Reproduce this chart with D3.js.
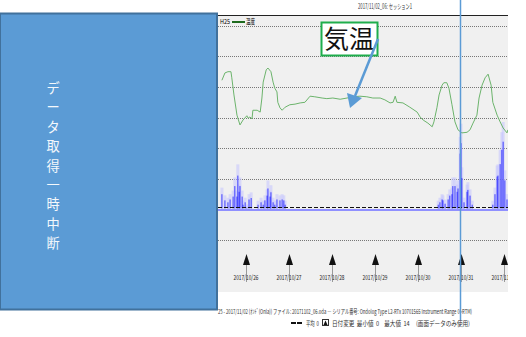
<!DOCTYPE html>
<html>
<head>
<meta charset="utf-8">
<script src="https://cdn.jsdelivr.net/npm/d3@7"></script>
<style>
  body { margin: 0; background: #fff; }
  svg text { font-family: "Noto Sans CJK JP", "DejaVu Sans", sans-serif; }
</style>
</head>
<body>
<div class="svg-container"></div>
<script>
// time in days from 2017/10/26 00:00
let tickDays = [0, 1, 2, 3, 4, 5, 6];
let tickLabels = ["2017/10/26", "2017/10/27", "2017/10/28", "2017/10/29", "2017/10/30", "2017/10/31", "2017/11/01"];

let tempDays = [-0.56, -0.49, -0.42, -0.35, -0.33, -0.28, -0.21, -0.14, -0.07, 0.02, 0.05, 0.09, 0.14, 0.16, 0.26, 0.33, 0.37, 0.40, 0.47, 0.51, 0.58, 0.63, 0.67, 0.72, 0.74, 0.79, 0.84, 0.91, 1.02, 1.14, 1.26, 1.37, 1.49, 1.60, 1.77, 1.88, 2.02, 2.19, 2.35, 2.49, 2.65, 2.81, 2.95, 3.12, 3.23, 3.35, 3.42, 3.47, 3.51, 3.65, 3.81, 3.98, 4.05, 4.12, 4.23, 4.33, 4.37, 4.44, 4.49, 4.56, 4.60, 4.67, 4.72, 4.79, 4.86, 4.93, 5.02, 5.14, 5.21, 5.28, 5.37, 5.42, 5.49, 5.56, 5.63, 5.70, 5.74, 5.84, 5.91, 5.98, 6.07, 6.09];
let tempValues = [26.1, 27.3, 27.5, 27.5, 26.5, 23.7, 20.4, 18.8, 19.6, 20.3, 19.9, 20.1, 19.8, 21.2, 21.2, 20.9, 23.2, 25.8, 27.8, 28.1, 27.5, 25.8, 24.8, 24.2, 22.5, 21.6, 21.2, 21.7, 22.1, 22.2, 22.4, 22.5, 23.5, 23.4, 23.2, 23.1, 23.2, 23.0, 23.2, 23.4, 23.5, 23.4, 23.2, 23.2, 22.9, 22.4, 22.5, 23.5, 22.5, 22.4, 21.7, 20.9, 20.1, 19.6, 19.1, 18.5, 19.3, 21.6, 23.7, 25.3, 25.7, 25.7, 24.8, 22.1, 19.3, 18.0, 17.5, 17.6, 18.0, 19.1, 20.4, 23.2, 25.3, 26.5, 27.1, 25.3, 22.5, 20.4, 19.3, 18.3, 17.5, 18.0];

let barDays = [-0.56, -0.49, -0.42, -0.37, -0.30, -0.26, -0.21, -0.19, -0.16, -0.14, -0.09, -0.07, -0.02, 0.02, 0.07, 0.12,
  0.28, 0.35, 0.40, 0.44, 0.49, 0.51, 0.56, 0.58, 0.63, 0.67, 0.72, 0.79, 0.84, 0.88, 0.91,
  4.47, 4.51, 4.56, 4.58, 4.63, 4.70, 4.74, 4.79, 4.81, 4.86, 4.91, 4.93, 4.98, 5.00, 5.02, 5.07, 5.14, 5.16, 5.21, 5.26,
  5.74, 5.79, 5.84, 5.86, 5.91, 5.95, 5.98, 6.02, 6.07];
let barValues = [3.0, 1.7, 1.3, 1.9, 2.5, 4.7, 2.5, 6.9, 3.5, 4.7, 2.5, 0.8, 1.3, 0.2, 1.9, 2.2,
  0.8, 1.3, 0.8, 1.7, 2.7, 4.2, 2.5, 3.4, 1.3, 0.8, 1.9, 1.7, 1.9, 1.7, 0.8,
  0.8, 1.3, 1.9, 1.7, 1.0, 1.9, 2.7, 3.0, 4.7, 4.7, 3.5, 4.2, 11.5, 13.7, 6.4, 1.3, 3.5, 3.9, 2.7, 0.8,
  0.8, 3.0, 6.7, 6.9, 9.3, 12.3, 14.0, 5.9, 1.9];

let gridTemps = [0, 5, 10, 15, 20, 25, 30, 35];
let legendLabels = ["H25", "温度"];
let titleText = "2017/11/02_06: セッション1";
let calloutText = "気温";
let noteChars = ["デ", "ー", "タ", "取", "得", "一", "時", "中", "断"];
let footer1 = "25 - 2017/11/02 (ｵﾝﾄﾞ(Onla)) ファイル: 20171102_06.oda ― シリアル番号: Ondolog Type L2-RTx 10701565 Instrument Range 0~RTM)";
let footer2a = "平均\u00a0\u00a00";
let footer2b = "日付変更\u00a0\u00a0最小値\u00a0\u00a00\u00a0\u00a0\u00a0\u00a0最大値\u00a0\u00a014\u00a0\u00a0\u00a0\u00a0\u00a0(画面データのみ使用)";
let avgValue = 0;

let width = 526, height = 337;
let panelLeft = 218, panelRight = 508, panelTop = 15, panelBottom = 292;

let svg = d3.select(".svg-container").append("svg")
  .attr("width", width)
  .attr("height", height);

svg.append("defs").append("clipPath").attr("id", "panel-clip")
  .append("rect")
  .attr("x", panelLeft).attr("y", panelTop)
  .attr("width", panelRight - panelLeft).attr("height", panelBottom - panelTop);

// scales
const x = d3.scaleLinear().domain([0, 6]).range([246, 504]);
const yTemp = d3.scaleLinear().domain([0, 35]).range([240, 25.8]);
const yBar = d3.scaleLinear().domain([0, 14]).range([208.5, 125]);

// panel background
svg.append("rect")
  .attr("x", panelLeft).attr("y", panelTop)
  .attr("width", panelRight - panelLeft).attr("height", panelBottom - panelTop)
  .attr("fill", "#f0f0f0");

// title
svg.append("text")
  .attr("x", 385).attr("y", 9)
  .attr("text-anchor", "middle")
  .attr("font-size", 7)
  .attr("textLength", 54).attr("lengthAdjust", "spacingAndGlyphs")
  .attr("fill", "#333")
  .text(titleText);

let plot = svg.append("g").attr("clip-path", "url(#panel-clip)");

// grid lines
plot.selectAll(".grid")
  .data(gridTemps)
  .enter()
  .append("line")
  .attr("class", "grid")
  .attr("x1", panelLeft).attr("x2", panelRight)
  .attr("y1", d => Math.round(yTemp(d)) + 0.5)
  .attr("y2", d => Math.round(yTemp(d)) + 0.5)
  .attr("stroke", "#777")
  .attr("stroke-dasharray", "1,1");

// top border
svg.append("line")
  .attr("x1", panelLeft).attr("x2", panelRight)
  .attr("y1", panelTop + 0.5).attr("y2", panelTop + 0.5)
  .attr("stroke", "#222");

// bar baseline
plot.append("line")
  .attr("x1", panelLeft).attr("x2", panelRight)
  .attr("y1", yBar(0) + 1.5).attr("y2", yBar(0) + 1.5)
  .attr("stroke", "#9090ff")
  .attr("stroke-width", 2);

// bars: light halo + core
let bars = barDays.map((d, i) => ({ day: d, value: barValues[i] }));
plot.selectAll(".halo")
  .data(bars)
  .enter()
  .append("rect")
  .attr("class", "halo")
  .attr("x", d => x(d.day) - 1.5)
  .attr("width", 3)
  .attr("y", d => yBar(d.value) - 3)
  .attr("height", d => yBar(0) - yBar(d.value) + 3)
  .attr("fill", "#c4c4ff")
  .attr("opacity", 0.55);
plot.selectAll(".bar")
  .data(bars)
  .enter()
  .append("rect")
  .attr("class", "bar")
  .attr("x", d => x(d.day) - 0.5)
  .attr("width", 1)
  .attr("y", d => yBar(d.value * 0.8))
  .attr("height", d => yBar(0) - yBar(d.value * 0.8))
  .attr("fill", "#1010ff")
  .attr("opacity", 0.75);

// average line
plot.append("line")
  .attr("x1", panelLeft).attr("x2", panelRight)
  .attr("y1", yBar(avgValue) - 1).attr("y2", yBar(avgValue) - 1)
  .attr("stroke", "#111")
  .attr("stroke-width", 1)
  .attr("stroke-dasharray", "4,2");

// temperature line
let temps = tempDays.map((d, i) => ({ day: d, value: tempValues[i] }));
const line = d3.line()
  .x(d => x(d.day))
  .y(d => yTemp(d.value));
plot.append("path")
  .datum(temps)
  .attr("d", line)
  .attr("fill", "none")
  .attr("stroke", "#6cb46c")
  .attr("stroke-width", 1);

// legend
svg.append("text")
  .attr("x", 220).attr("y", 24)
  .attr("font-size", 6.5)
  .attr("textLength", 10).attr("lengthAdjust", "spacingAndGlyphs")
  .text(legendLabels[0]);
svg.append("line")
  .attr("x1", 232).attr("x2", 245).attr("y1", 22).attr("y2", 22)
  .attr("stroke", "#1e6b1e").attr("stroke-width", 2);
svg.append("text")
  .attr("x", 246).attr("y", 24)
  .attr("font-size", 6.5)
  .attr("textLength", 9).attr("lengthAdjust", "spacingAndGlyphs")
  .text(legendLabels[1]);

// day-change markers and labels
let axisG = plot.append("g");
axisG.selectAll(".stem")
  .data(tickDays)
  .enter()
  .append("line")
  .attr("x1", d => x(d) + 0.5).attr("x2", d => x(d) + 0.5)
  .attr("y1", 262).attr("y2", 282)
  .attr("stroke", "#999");
axisG.selectAll(".tri")
  .data(tickDays)
  .enter()
  .append("path")
  .attr("d", d => "M" + (x(d) - 3) + ",265L" + (x(d) + 4) + ",265L" + (x(d) + 0.5) + ",254Z")
  .attr("fill", "#111");
axisG.selectAll(".tlabel")
  .data(tickDays)
  .enter()
  .append("text")
  .attr("x", d => x(d) - 12.5)
  .attr("y", 280)
  .attr("font-size", 7)
  .attr("textLength", 25).attr("lengthAdjust", "spacingAndGlyphs")
  .attr("fill", "#222")
  .text((d, i) => tickLabels[i]);

// footer: small font stretched vertically so the line keeps its width
svg.append("text")
  .attr("transform", "translate(218,314) scale(1,1.5)")
  .attr("font-size", 4.3)
  .attr("textLength", 254).attr("lengthAdjust", "spacingAndGlyphs")
  .attr("fill", "#333")
  .text(footer1);
svg.append("line")
  .attr("x1", 291).attr("x2", 303).attr("y1", 323).attr("y2", 323)
  .attr("stroke", "#111").attr("stroke-width", 2).attr("stroke-dasharray", "5,1");
svg.append("text")
  .attr("x", 306).attr("y", 325.5)
  .attr("font-size", 6.5)
  .attr("textLength", 13).attr("lengthAdjust", "spacingAndGlyphs")
  .attr("fill", "#333")
  .text(footer2a);
svg.append("rect")
  .attr("x", 322.5).attr("y", 319.5).attr("width", 6).attr("height", 6)
  .attr("fill", "#fff").attr("stroke", "#333");
svg.append("path")
  .attr("d", "M323.5,325L327.5,325L325.5,320.5Z")
  .attr("fill", "#111");
svg.append("text")
  .attr("x", 332).attr("y", 325.5)
  .attr("font-size", 6.5)
  .attr("textLength", 138).attr("lengthAdjust", "spacingAndGlyphs")
  .attr("fill", "#333")
  .text(footer2b);

// vertical marker line
svg.append("line")
  .attr("x1", 460.5).attr("x2", 460.5)
  .attr("y1", 0).attr("y2", 320)
  .attr("stroke", "#5b9bd5").attr("stroke-width", 1.5);

// callout
svg.append("rect")
  .attr("x", 321.5).attr("y", 22.5).attr("width", 56).attr("height", 33)
  .attr("fill", "#fff").attr("stroke", "#1fae4c").attr("stroke-width", 2);
svg.append("text")
  .attr("x", 349).attr("y", 48)
  .attr("text-anchor", "middle")
  .attr("font-size", 25)
  .attr("fill", "#111")
  .text(calloutText);
svg.append("line")
  .attr("x1", 378).attr("x2", 355).attr("y1", 39).attr("y2", 96)
  .attr("stroke", "#5b9bd5").attr("stroke-width", 2.5);
svg.append("path")
  .attr("d", "M350,108L347,93L362,98Z")
  .attr("fill", "#5b9bd5");

// data gap note box
svg.append("rect")
  .attr("x", 0).attr("y", 13.5).attr("width", 217).attr("height", 296)
  .attr("fill", "#5b9bd5").attr("stroke", "#41719c").attr("stroke-width", 2);
svg.selectAll(".note")
  .data(noteChars)
  .enter()
  .append("text")
  .attr("class", "note")
  .attr("x", 53)
  .attr("y", (d, i) => 93 + i * 19.4)
  .attr("text-anchor", "middle")
  .attr("font-size", 13.2)
  .attr("fill", "#f4f8fc")
  .text(d => d);
</script>
</body>
</html>
